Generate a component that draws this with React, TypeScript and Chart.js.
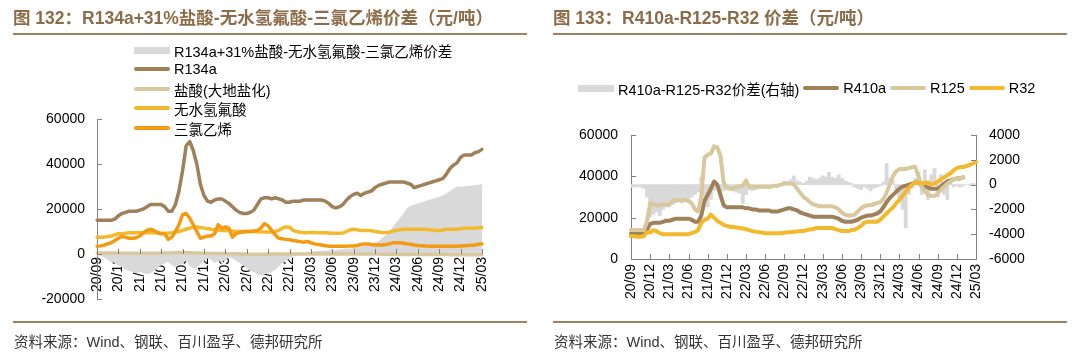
import React, { useEffect, useRef } from 'react';
import { Chart, registerables } from 'chart.js';

Chart.register(...registerables);

const FONT = "'Liberation Sans', Arial, 'Noto Sans CJK SC', sans-serif";
const AXIS_COLOR = '#808080';
const BROWN = '#a08058';
const TAN = '#d9c89e';
const YELLOW = '#f2b92c';
const ORANGE = '#f39a12';
const GREY = '#d9d9d9';
const TITLE_COLOR = '#8d6c48';
const RULE_COLOR = '#a08262';

// ---------- categories (half-month steps from 20/09 to 25/03) ----------
const START_YEAR = 20;
const START_MONTH = 9;
const N_MONTHS = 55;
const CATEGORIES: string[] = [];
for (let m = 0; m < N_MONTHS; m++) {
  const t = START_MONTH - 1 + m;
  const s = `${START_YEAR + Math.floor(t / 12)}/${String((t % 12) + 1).padStart(2, '0')}`;
  CATEGORIES.push(s + '上');
  if (m < N_MONTHS - 1) CATEGORIES.push(s + '下');
}
const TICK_LABELS = ['20/09', '20/12', '21/03', '21/06', '21/09', '21/12', '22/03', '22/06', '22/09', '22/12', '23/03', '23/06', '23/09', '23/12', '24/03', '24/06', '24/09', '24/12', '25/03'];
const TICK_EVERY = 6;

// ---------- figure 132 ----------
const LEFT_LABELS = ['R134a+31%盐酸-无水氢氟酸-三氯乙烯价差', 'R134a', '盐酸(大地盐化)', '无水氢氟酸', '三氯乙烯'];

const SPREAD_134 = [
  -500, -800, -1500, -2500, -3500, -4000, -5000, -6000, -7000, -7500, -8000, -8500,
  -8000, -8500, -9000, -8500, -7500, -6000, -5000, -4000, -3500, -5000, -6000, -5000,
  -4000, -3000, -5000, -6500, -6000, -4500, -3000, -2000, -2500, -4000, -3000, -3500,
  -2500, -1500, -2000, -3000, -4000, -5000, -6500, -7500, -8000, -9000, -9500, -9000,
  -8500, -8000, -7000, -5500, -4000, -3000, -2000, -1000, -500, 0, 500, 800,
  1000, 1200, 1300, 1500, 1600, 1700, 1800, 1800, 2000, 2200, 2400, 2500,
  2700, 3000, 3200, 3600, 4000, 4500, 5000, 5800, 7000, 8500, 10000, 12000,
  14000, 16000, 18000, 20500, 21500, 22000, 22500, 23000, 23500, 24000, 24500, 25000,
  25500, 26000, 27000, 28000, 29000, 30000, 30000, 30000, 30200, 30400, 30600, 30800,
  31000,
];
const R134A = [
  15000, 15000, 15000, 15000, 15000, 15500, 17000, 18000, 18500, 19000, 19000, 19000,
  19500, 20000, 21000, 22000, 22000, 22000, 22000, 21000, 19000, 19000, 22000, 28000,
  37000, 48000, 50000, 46000, 40000, 31000, 26000, 23500, 23000, 24000, 24500, 24500,
  23500, 22500, 21000, 19500, 18500, 18000, 18000, 18500, 19500, 22000, 24500, 25000,
  25000, 24500, 25000, 24500, 24000, 23000, 23000, 23500, 23500, 23500, 24000, 24000,
  24000, 24000, 24000, 24000, 23500, 22500, 21000, 20500, 21000, 22000, 24000, 25500,
  26500, 27000, 26000, 27000, 27500, 28000, 29500, 30500, 31000, 31500, 32000, 32000,
  32000, 32000, 32000, 31500, 31000, 29500, 30000, 30500, 31000, 31500, 32000, 32500,
  33000, 33500, 35500, 38000, 39500, 40500, 43000, 44000, 44000, 44000, 45000, 45500,
  46500,
];
const HCL = [
  500, 500, 500, 400, 400, 400, 400, 300, 300, 300, 300, 300,
  300, 300, 300, 300, 300, 300, 400, 400, 500, 500, 600, 700,
  700, 700, 600, 500, 500, 400, 300, 300, 200, 200, 200, 200,
  200, 100, 100, 100, 0, 0, 0, -100, -100, -100, -100, -100,
  -100, 0, 0, 0, 0, 0, 0, 0, 0, 0, 0, 0,
  0, 0, 0, 0, 0, 0, 0, 0, 0, 0, 0, 0,
  0, 0, 0, 0, 0, 0, 0, 0, -100, -100, -100, -100,
  -200, -200, -200, -200, -200, -200, -200, -200, -200, -200, -200, -200,
  -200, -200, -200, -300, -300, -300, -300, -300, -300, -300, -300, -300,
  -300,
];
const HF = [
  7500, 7500, 7500, 7800, 8000, 8500, 9000, 9000, 9200, 9500, 9500, 9500,
  9500, 9500, 9500, 9500, 9500, 9300, 9200, 9200, 9300, 9500, 9800, 10000,
  10500, 11000, 11500, 12000, 12000, 11800, 11500, 11300, 11000, 10800, 10700, 10500,
  10500, 10300, 10200, 10000, 10000, 10000, 10000, 10000, 10000, 9900, 9800, 9800,
  9800, 9800, 10000, 10500, 11500, 12000, 12000, 10500, 10000, 9700, 9500, 9500,
  9600, 9600, 9500, 9500, 9400, 9300, 9200, 9200, 9200, 9300, 10000, 10800,
  11000, 10800, 10500, 10500, 10500, 10300, 10000, 9800, 9600, 9500, 9700, 10200,
  10500, 10800, 11000, 11000, 11000, 11000, 11000, 11000, 11000, 10800, 10700, 10500,
  10500, 10700, 11000, 11000, 11000, 11000, 11200, 11500, 11500, 11500, 11500, 11700,
  11800,
];
const TCE = [
  3500, 3600, 4000, 4500, 5000, 6000, 7000, 7800, 7500, 7000, 7000, 7200,
  8000, 9500, 10500, 11000, 10500, 9500, 9000, 9000, 6500, 7500, 10000, 13000,
  17500, 18000, 16000, 13000, 10000, 7000, 7500, 8000, 8000, 9000, 13000, 11500,
  12000, 11500, 7500, 9000, 9500, 9800, 10000, 10000, 10200, 10500, 11500, 13500,
  12500, 10500, 8500, 7000, 6800, 6500, 6300, 6000, 5800, 5500, 5200, 5600,
  5000, 4500, 4200, 4000, 3700, 3500, 3500, 3500, 3500, 3500, 3500, 3600,
  3600, 3800, 4200, 4500, 4500, 4200, 4000, 4000, 4000, 4200, 4500, 5000,
  5000, 5000, 4800, 4500, 4300, 4000, 3800, 3700, 3600, 3500, 3500, 3400,
  3400, 3400, 3400, 3500, 3500, 3500, 3600, 3700, 3800, 3900, 4000, 4300,
  4500,
];
const LEFT_Y = { min: -20000, max: 60000, step: 20000 };

// ---------- figure 133 ----------
const RIGHT_LABELS = ['R410a-R125-R32价差(右轴)', 'R410a', 'R125', 'R32'];

const SPREAD_410 = [
  -200, -200, -150, -200, -300, -1000, -2600, -2400, -2200, -2500, -2000, -1700,
  -1800, -1600, -1500, -1400, -1500, -1300, -1200, -1000, -800, -600, 600, -1500,
  -1800, -1200, -500, -200, -800, -500, -400, -300, -500, -600, -700, -1500,
  -800, -400, -500, -400, -300, -200, -300, -200, -100, -200, -100, 100,
  300, 200, 400, 700, 300, 200, 100, 300, 600, 500, 400, 500,
  700, 600, 1000, 600, 500, 800, 500, 300, 200, 100, -200, -300,
  -400, -200, -300, -500, -300, -200, -100, 200, 1700, 500, 300, -500,
  -1200, -2000, -3500, -800, -300, 500, 1000, -800, 1200, -1200, 800, 1300,
  -1000, 800, -800, -1200, 400, -200, -100, -200, -100, 0, -100, 100,
  0,
];
const R410A = [
  12500, 12500, 12500, 12500, 12500, 14000, 17000, 17500, 17500, 17500, 18000, 18500,
  18500, 19000, 19500, 19500, 19500, 19500, 19500, 19000, 18000, 18000, 21000, 28000,
  31000, 34000, 37500, 36000, 31000, 26000, 25000, 25000, 25000, 25000, 25000, 25000,
  24500, 24500, 24000, 24000, 23500, 23500, 23500, 23500, 23000, 23000, 23000, 23500,
  24000, 24500, 24500, 24000, 23500, 22500, 22000, 21500, 21000, 20500, 20500, 20500,
  20500, 20500, 20500, 20500, 20000, 19500, 18500, 18000, 18000, 18000, 18500, 19000,
  20000, 20500, 21000, 21000, 21500, 22000, 23000, 25000, 27500, 29500, 31000, 32500,
  34000, 35000, 35500, 36000, 36500, 37000, 37000, 35500, 35000, 34500, 34000, 34000,
  34000, 35000, 36500, 37500, 38000, 38500, 39000, 39000, 39500, null, null, null,
  null,
];
const R125 = [
  14000, 14000, 14000, 14000, 14000, 18000, 27000, 26500, 26000, 26000, 26500, 26000,
  26500, 28000, 28500, 28500, 28500, 28500, 28000, 27000, 24000, 23000, 30000, 49000,
  50500, 51000, 54500, 54000, 50000, 37000, 34500, 34000, 34000, 35000, 35000, 35500,
  38000, 35000, 35000, 35000, 35000, 35000, 35000, 35000, 35000, 35500, 35500, 36000,
  36500, 36500, 36500, 36000, 34000, 32000, 30000, 29000, 27500, 26500, 26000, 25500,
  25500, 25500, 25500, 25500, 25000, 24000, 22500, 21500, 21000, 21000, 21500, 23000,
  24500, 25500, 26000, 26000, 26500, 27000, 27500, 29000, 32000, 36000, 40000, 42500,
  43500, 43500, 43500, 44000, 44500, 44500, 40000, 35000, 33000, 31000, 30500, 30500,
  31500, 33500, 35000, 36500, 37500, 38500, 39000, 39000, 39500, null, null, null,
  null,
];
const R32 = [
  11000, 11000, 10800, 10800, 11000, 13000, 12800, 14000, 13500, 12500, 12000, 12000,
  12000, 12000, 12000, 12000, 12000, 12000, 12000, 12500, 13000, 14000, 17500, 19000,
  19500, 21500, 20000, 18500, 17500, 16500, 16000, 15500, 15500, 15200, 15000, 14800,
  14500, 14000, 13500, 13200, 13000, 12800, 12500, 12500, 12500, 12500, 12500, 12500,
  12700, 13000, 13000, 13200, 13300, 13500, 13500, 14000, 14300, 14500, 15000, 15000,
  15000, 15000, 15000, 15000, 14500, 14000, 13500, 13500, 13500, 14000, 14200, 15000,
  16000, 17500, 18000, 18000, 18000, 18000, 19000, 20500, 22000, 23500, 25000, 27000,
  28500, 30500, 32500, 34500, 36000, 37000, 37000, 36500, 36800, 37000, 36000, 36500,
  37500, 38500, 39500, 40500, 41500, 43000, 44000, 44500, 44500, 45000, 45500, 46200,
  47000,
];
const RIGHT_Y = { min: 0, max: 60000, step: 20000 };
const RIGHT_Y1 = { min: -6000, max: 4000, step: 2000 };

// ---------- helpers ----------
const tickFont = { family: FONT, size: 14 };
const xTickFont = { family: FONT, size: 14 };

function xTickCallback(_v: any, i: number) {
  return i % TICK_EVERY === 0 ? TICK_LABELS[i / TICK_EVERY] : '';
}

function inwardTicks(baseline: (c: any) => number) {
  return {
    id: 'inwardTicks',
    afterDraw(chart: any) {
      const { ctx, chartArea } = chart;
      ctx.save();
      ctx.strokeStyle = AXIS_COLOR;
      ctx.lineWidth = 1;
      ctx.beginPath();
      const xs = chart.scales.x;
      const yb = Math.round(baseline(chart));
      xs.ticks.forEach((_t: any, i: number) => {
        if (i % TICK_EVERY !== 0) return;
        const px = Math.round(xs.getPixelForTick(i)) + 0.5;
        ctx.moveTo(px, yb);
        ctx.lineTo(px, yb - 5);
      });
      ['y', 'y1'].forEach((id) => {
        const s = chart.scales[id];
        if (!s) return;
        const isRight = s.position === 'right';
        const ax = isRight ? chartArea.right : chartArea.left;
        s.ticks.forEach((_t: any, i: number) => {
          const py = Math.round(s.getPixelForTick(i)) + 0.5;
          ctx.moveTo(ax, py);
          ctx.lineTo(isRight ? ax - 5 : ax + 5, py);
        });
      });
      ctx.stroke();
      ctx.restore();
    },
  };
}

const lineDs = (label: string, data: (number | null)[], color: string, order: number, width: number, yAxisID = 'y') => ({
  type: 'line' as const,
  label,
  data,
  borderColor: color,
  backgroundColor: color,
  borderWidth: width,
  pointRadius: 0,
  tension: 0,
  fill: false,
  borderJoinStyle: 'round' as const,
  borderCapStyle: 'round' as const,
  order,
  yAxisID,
});

function LeftChart() {
  const ref = useRef<HTMLCanvasElement>(null);
  useEffect(() => {
    const chart = new Chart(ref.current as HTMLCanvasElement, {
      type: 'line',
      data: {
        labels: CATEGORIES,
        datasets: [
          {
            type: 'line',
            label: LEFT_LABELS[0],
            data: SPREAD_134,
            borderColor: 'rgba(0,0,0,0)',
            backgroundColor: GREY,
            borderWidth: 0,
            pointRadius: 0,
            fill: 'origin',
            order: 5,
          } as any,
          lineDs(LEFT_LABELS[1], R134A, BROWN, 4, 3.5),
          lineDs(LEFT_LABELS[2], HCL, TAN, 3, 3.5),
          lineDs(LEFT_LABELS[3], HF, YELLOW, 2, 3.5),
          lineDs(LEFT_LABELS[4], TCE, ORANGE, 1, 3.5),
        ],
      },
      options: {
        responsive: false,
        animation: false,
        devicePixelRatio: 1,
        layout: { padding: { top: 119, right: 58, bottom: 61, left: 0 } },
        plugins: { legend: { display: false }, tooltip: { enabled: false }, title: { display: false } },
        scales: {
          x: {
            type: 'category',
            position: { y: 0 } as any,
            offset: false,
            grid: { display: false, drawTicks: false },
            border: { display: true, color: AXIS_COLOR, width: 1 },
            ticks: {
              autoSkip: false,
              maxRotation: 90,
              minRotation: 90,
              padding: 3,
              color: '#000',
              font: xTickFont,
              callback: xTickCallback,
            },
          },
          y: {
            type: 'linear',
            min: LEFT_Y.min,
            max: LEFT_Y.max,
            grid: { display: false, drawTicks: false },
            border: { display: true, color: AXIS_COLOR, width: 1 },
            ticks: { stepSize: LEFT_Y.step, padding: 12, color: '#000', font: tickFont, callback: (v: any) => String(v) },
            afterFit: (s: any) => { s.width = 97; },
          },
        },
      },
      plugins: [inwardTicks((c: any) => c.scales.y.getPixelForValue(0))],
    } as any);
    return () => chart.destroy();
  }, []);
  return <canvas ref={ref} width={540} height={360} style={{ position: 'absolute', left: 0, top: 0, width: 540, height: 360 }} />;
}

function RightChart() {
  const ref = useRef<HTMLCanvasElement>(null);
  useEffect(() => {
    const chart = new Chart(ref.current as HTMLCanvasElement, {
      type: 'line',
      data: {
        labels: CATEGORIES,
        datasets: [
          {
            type: 'bar',
            label: RIGHT_LABELS[0],
            data: SPREAD_410,
            backgroundColor: GREY,
            borderWidth: 0,
            barPercentage: 1,
            categoryPercentage: 1,
            yAxisID: 'y1',
            order: 4,
          } as any,
          lineDs(RIGHT_LABELS[1], R410A, BROWN, 3, 4),
          lineDs(RIGHT_LABELS[2], R125, TAN, 2, 4),
          lineDs(RIGHT_LABELS[3], R32, YELLOW, 1, 4),
        ],
      },
      options: {
        responsive: false,
        animation: false,
        devicePixelRatio: 1,
        layout: { padding: { top: 135, right: 0, bottom: 0, left: 0 } },
        plugins: { legend: { display: false }, tooltip: { enabled: false }, title: { display: false } },
        scales: {
          x: {
            type: 'category',
            position: 'bottom',
            offset: false,
            grid: { display: false, drawTicks: false, offset: false },
            border: { display: true, color: AXIS_COLOR, width: 1 },
            ticks: {
              autoSkip: false,
              maxRotation: 90,
              minRotation: 90,
              padding: 5,
              color: '#000',
              font: xTickFont,
              callback: xTickCallback,
            },
            afterFit: (s: any) => { s.height = 101; },
          },
          y: {
            type: 'linear',
            position: 'left',
            min: RIGHT_Y.min,
            max: RIGHT_Y.max,
            grid: { display: false, drawTicks: false },
            border: { display: true, color: AXIS_COLOR, width: 1 },
            ticks: { stepSize: RIGHT_Y.step, padding: 13, color: '#000', font: tickFont, callback: (v: any) => String(v) },
            afterFit: (s: any) => { s.width = 91; },
          },
          y1: {
            type: 'linear',
            position: 'right',
            min: RIGHT_Y1.min,
            max: RIGHT_Y1.max,
            grid: { display: false, drawTicks: false },
            border: { display: true, color: AXIS_COLOR, width: 1 },
            ticks: { stepSize: RIGHT_Y1.step, padding: 13, color: '#000', font: tickFont, callback: (v: any) => String(v) },
            afterFit: (s: any) => { s.width = 104; },
          },
        },
      },
      plugins: [inwardTicks((c: any) => c.chartArea.bottom)],
    } as any);
    return () => chart.destroy();
  }, []);
  return <canvas ref={ref} width={540} height={360} style={{ position: 'absolute', left: 540, top: 0, width: 540, height: 360 }} />;
}

function Swatch({ color, box }: { color: string; box?: boolean }) {
  return (
    <span
      style={{
        display: 'inline-block',
        width: 36,
        height: box ? 7 : 4,
        background: color,
        borderRadius: box ? 0 : 2,
        flex: '0 0 auto',
      }}
    />
  );
}

const textBase: React.CSSProperties = { position: 'absolute', whiteSpace: 'nowrap', fontFamily: FONT };

function Frame({ left, title, ruleLeft, ruleWidth }: { left: number; title: string; ruleLeft: number; ruleWidth: number }) {
  return (
    <>
      <div style={{ ...textBase, left: left, top: 7, fontSize: 17.5, lineHeight: '22px', fontWeight: 700, color: TITLE_COLOR }}>{title}</div>
      <div style={{ position: 'absolute', left: ruleLeft, top: 33, width: ruleWidth, height: 2, background: RULE_COLOR }} />
      <div style={{ position: 'absolute', left: ruleLeft, top: 321, width: ruleWidth, height: 2, background: RULE_COLOR }} />
      <div style={{ ...textBase, left: ruleLeft + 1, top: 333, fontSize: 14.5, lineHeight: '18px', color: '#333' }}>
        资料来源：Wind、钢联、百川盈孚、德邦研究所
      </div>
    </>
  );
}

export default function App() {
  const leftItems = [
    { label: LEFT_LABELS[0], color: GREY, box: true },
    { label: LEFT_LABELS[1], color: BROWN },
    { label: LEFT_LABELS[2], color: TAN },
    { label: LEFT_LABELS[3], color: YELLOW },
    { label: LEFT_LABELS[4], color: ORANGE },
  ];
  const leftRows = [50, 69, 89, 108, 128];
  const rightItems = [
    { label: RIGHT_LABELS[0], color: GREY, box: true },
    { label: RIGHT_LABELS[1], color: BROWN },
    { label: RIGHT_LABELS[2], color: TAN },
    { label: RIGHT_LABELS[3], color: YELLOW },
  ];
  return (
    <div style={{ position: 'absolute', left: 0, top: 0, width: 1080, height: 360, background: '#fff', overflow: 'hidden', fontFamily: FONT }}>
      <LeftChart />
      <RightChart />
      <Frame left={13} title="图 132：R134a+31%盐酸-无水氢氟酸-三氯乙烯价差（元/吨）" ruleLeft={13} ruleWidth={514} />
      <Frame left={553} title="图 133：R410a-R125-R32 价差（元/吨）" ruleLeft={553} ruleWidth={514} />
      {leftItems.map((it, i) => (
        <div key={i} style={{ ...textBase, left: 134, top: leftRows[i] - 10, height: 20, display: 'flex', alignItems: 'center', gap: 4, fontSize: 14.5, color: '#000' }}>
          <Swatch color={it.color} box={it.box} />
          <span>{it.label}</span>
        </div>
      ))}
      <div style={{ ...textBase, left: 578, top: 78, height: 20, display: 'flex', alignItems: 'center', fontSize: 14.5, color: '#000' }}>
        {rightItems.map((it, i) => (
          <span key={i} style={{ display: 'flex', alignItems: 'center', gap: 4, marginRight: 4 }}>
            <Swatch color={it.color} box={it.box} />
            <span>{it.label}</span>
          </span>
        ))}
      </div>
    </div>
  );
}
